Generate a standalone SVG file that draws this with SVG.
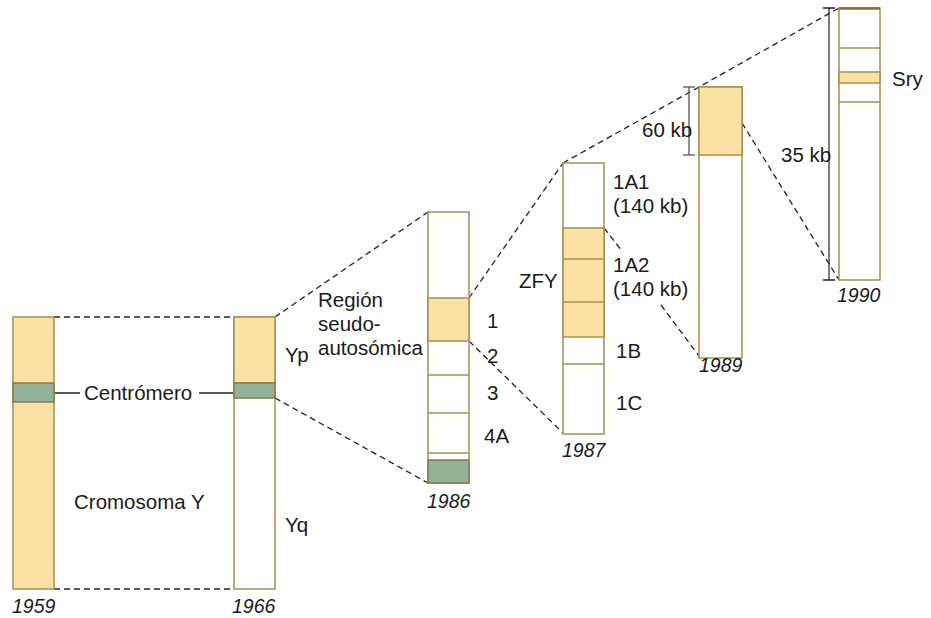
<svg xmlns="http://www.w3.org/2000/svg" width="931" height="618" viewBox="0 0 931 618">
<style>
.bar{fill:#ffffff;stroke:#a58f52;stroke-width:1.5}
.y{fill:#fbe2a4;stroke:#a58f52;stroke-width:1.5}
.g{fill:#93b29a;stroke:#8a7a45;stroke-width:1.5}
.ln{stroke:#a58f52;stroke-width:1.5}
.d{fill:none;stroke:#222;stroke-width:1.3;stroke-dasharray:6 4}
text{font-family:"Liberation Sans",Arial,sans-serif;font-size:20.5px;fill:#1a1a1a}
.it{font-style:italic;font-size:19.5px}
</style>
<rect width="931" height="618" fill="#ffffff"/>
<g id="connectors">
<line class="d" x1="54" y1="317" x2="234" y2="317"/>
<line class="d" x1="54" y1="589" x2="234" y2="589"/>
<line class="d" x1="275" y1="317" x2="428" y2="212"/>
<line class="d" x1="275" y1="398" x2="428" y2="483"/>
<line class="d" x1="469" y1="298" x2="563" y2="163"/>
<line class="d" x1="469" y1="341" x2="563" y2="433"/>
<polyline class="d" points="563,163 699,87 839,8"/>
<line class="d" x1="604" y1="228" x2="622" y2="251"/>
<line class="d" x1="661" y1="305" x2="699" y2="356"/>
<line class="d" x1="742" y1="123" x2="839" y2="280"/>
<line x1="54" y1="393" x2="80" y2="393" stroke="#222" stroke-width="1.5"/>
<line x1="199" y1="393" x2="234" y2="393" stroke="#222" stroke-width="1.5"/>
</g>
<g id="c1959">
<rect class="y" x="13" y="317" width="41" height="272"/>
<rect class="g" x="13" y="383" width="41" height="19"/>
<text class="it" x="12" y="613">1959</text>
</g>
<g id="centromero"><text x="84" y="400">Centrómero</text></g>
<g id="cromosomaY"><text x="74" y="509">Cromosoma Y</text></g>
<g id="c1966">
<rect class="bar" x="234" y="317" width="41" height="272"/>
<rect class="y" x="234" y="317" width="41" height="66"/>
<rect class="g" x="234" y="383" width="41" height="15"/>
<text x="285" y="362">Yp</text>
<text x="285" y="532">Yq</text>
<text class="it" x="232" y="613">1966</text>
</g>
<g id="region">
<text x="318" y="307">Región</text>
<text x="318" y="331">seudo-</text>
<text x="318" y="355">autosómica</text>
</g>
<g id="c1986">
<rect class="bar" x="428" y="212" width="41" height="271"/>
<rect class="y" x="428" y="298" width="41" height="43"/>
<line class="ln" x1="428" y1="375" x2="469" y2="375"/>
<line class="ln" x1="428" y1="413" x2="469" y2="413"/>
<line class="ln" x1="428" y1="453" x2="469" y2="453"/>
<rect class="g" x="428" y="460" width="41" height="23"/>
<text x="487" y="328">1</text>
<text x="487" y="363">2</text>
<text x="487" y="400">3</text>
<text x="484" y="443">4A</text>
<text class="it" x="427" y="508">1986</text>
</g>
<g id="c1987">
<rect class="bar" x="563" y="163" width="41" height="271"/>
<rect class="y" x="563" y="228" width="41" height="109"/>
<line class="ln" x1="563" y1="259" x2="604" y2="259"/>
<line class="ln" x1="563" y1="302" x2="604" y2="302"/>
<line class="ln" x1="563" y1="364" x2="604" y2="364"/>
<text x="519" y="288">ZFY</text>
<text x="613" y="189">1A1</text>
<text x="613" y="213">(140 kb)</text>
<text x="613" y="272">1A2</text>
<text x="613" y="296">(140 kb)</text>
<text x="616" y="358">1B</text>
<text x="616" y="410">1C</text>
<text class="it" x="562" y="457">1987</text>
</g>
<g id="c1989">
<rect class="bar" x="699" y="87" width="43" height="271"/>
<rect class="y" x="699" y="87" width="43" height="68"/>
<line x1="689" y1="87" x2="689" y2="155" stroke="#555" stroke-width="1.3"/>
<line x1="683" y1="87" x2="695" y2="87" stroke="#555" stroke-width="1.3"/>
<line x1="683" y1="155" x2="695" y2="155" stroke="#555" stroke-width="1.3"/>
<text x="642" y="137">60 kb</text>
<text class="it" x="699" y="372">1989</text>
</g>
<g id="c1990">
<rect class="bar" x="839" y="8" width="41" height="272"/>
<line x1="839" y1="8.5" x2="880" y2="8.5" stroke="#8a7130" stroke-width="2.5"/>
<line class="ln" x1="839" y1="48" x2="880" y2="48"/>
<rect class="y" x="839" y="72" width="41" height="11"/>
<line class="ln" x1="839" y1="102" x2="880" y2="102"/>
<line x1="829" y1="8" x2="829" y2="280" stroke="#222" stroke-width="1.2"/>
<line x1="823" y1="8" x2="835" y2="8" stroke="#222" stroke-width="1.5"/>
<line x1="823" y1="280" x2="835" y2="280" stroke="#222" stroke-width="1.5"/>
<text x="781" y="162">35 kb</text>
<text x="892" y="86">Sry</text>
<text class="it" x="837" y="302">1990</text>
</g>
</svg>
